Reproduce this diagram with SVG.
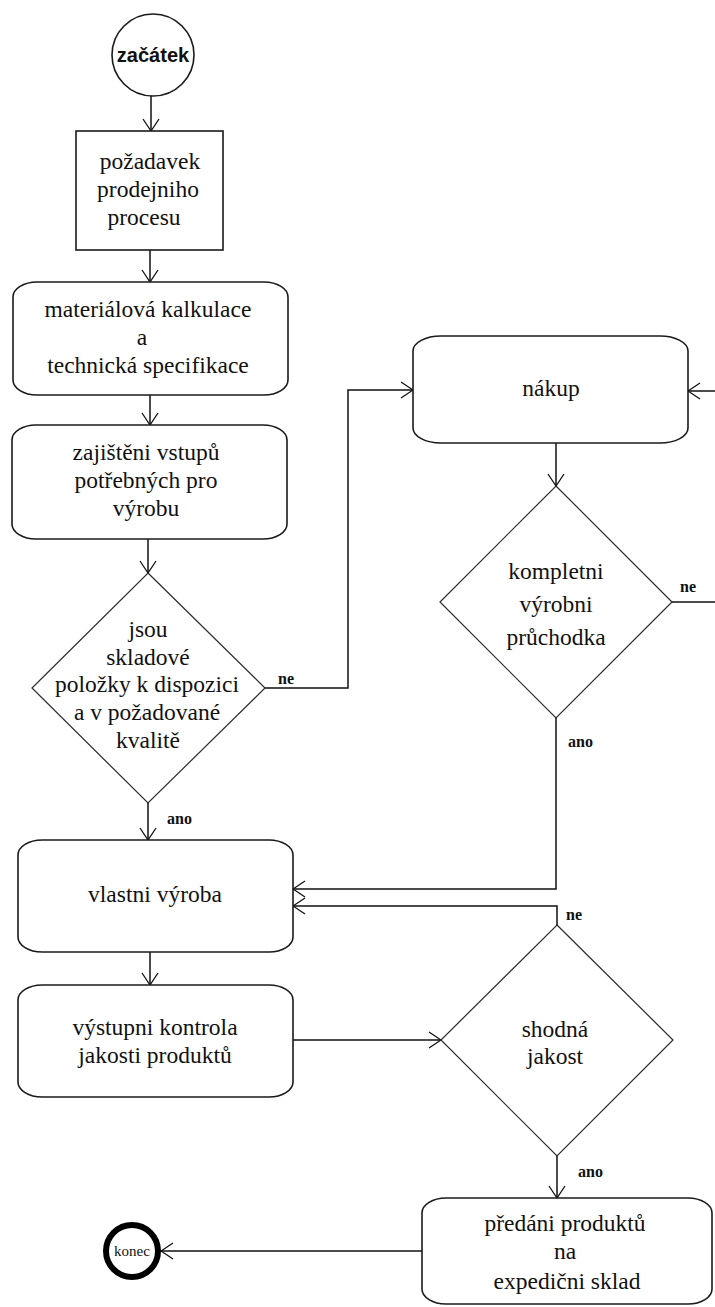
<svg xmlns="http://www.w3.org/2000/svg" width="715" height="1307" viewBox="0 0 715 1307">
  <style>
    .box { fill: #fff; stroke: #1a1a1a; stroke-width: 1.6; }
    .dia { fill: #fff; stroke: #2a2a2a; stroke-width: 1.2; }
    .t { font-family: "Liberation Serif", "Times New Roman", serif; font-size: 23.5px; fill: #111; text-anchor: middle; }
    .lbl { font-family: "Liberation Serif", "Times New Roman", serif; font-size: 16px; font-weight: bold; fill: #111; }
    .conn path { fill: none; stroke: #111; stroke-width: 1.5; marker-end: url(#open); }
    .conn path.plain { marker-end: none; }
  </style>
  <defs>
    <marker id="open" markerUnits="userSpaceOnUse" markerWidth="14" markerHeight="18" viewBox="0 0 14 18" refX="13" refY="9" orient="auto">
      <path d="M1,1 L13,9 L1,17" fill="none" stroke="#111" stroke-width="1.3"/>
    </marker>
  </defs>
  <rect width="715" height="1307" fill="#fff"/>

  <!-- connectors -->
  <g id="connectors" class="conn">
    <path d="M151,96 V131"/>
    <path d="M150,250 V282"/>
    <path d="M150,395 V425"/>
    <path d="M148,539 V573"/>
    <path d="M148,803 V840"/>
    <path d="M265,688 H348 V390 H413"/>
    <path d="M556,443 V486"/>
    <path class="plain" d="M672,602 H715"/>
    <path d="M715,391 H688"/>
    <path d="M556,718 V889 H293"/>
    <path d="M557,925 V906 H293"/>
    <path d="M150,952 V985"/>
    <path d="M293,1040 H441"/>
    <path d="M557,1156 V1198"/>
    <path d="M422,1251 H161"/>
  </g>

  <!-- connector labels -->
  <g id="labels">
    <text class="lbl" x="278" y="684">ne</text>
    <text class="lbl" x="167" y="824">ano</text>
    <text class="lbl" x="680" y="592">ne</text>
    <text class="lbl" x="568" y="747">ano</text>
    <text class="lbl" x="566" y="920">ne</text>
    <text class="lbl" x="578" y="1177">ano</text>
  </g>

  <g id="start">
    <circle cx="153" cy="55" r="41" fill="#fff" stroke="#1a1a1a" stroke-width="1.6"/>
    <text x="153" y="62" font-family="'Liberation Sans', Arial, sans-serif" font-size="20" font-weight="bold" fill="#111" text-anchor="middle">začátek</text>
  </g>

  <g id="pozadavek">
    <rect class="box" x="76" y="131" width="147" height="119"/>
    <text class="t" x="150" y="169">požadavek</text>
    <text class="t" x="148" y="197">prodejniho</text>
    <text class="t" x="144" y="225">procesu</text>
  </g>

  <g id="kalkulace">
    <rect class="box" x="13" y="282" width="275" height="113" rx="24" ry="15"/>
    <text class="t" x="148" y="317">materiálová kalkulace</text>
    <text class="t" x="142" y="345">a</text>
    <text class="t" x="148" y="373">technická specifikace</text>
  </g>

  <g id="vstupy">
    <rect class="box" x="12" y="425" width="275" height="114" rx="24" ry="15"/>
    <text class="t" x="146" y="460">zajištěni vstupů</text>
    <text class="t" x="146" y="488">potřebných pro</text>
    <text class="t" x="146" y="516">výrobu</text>
  </g>

  <g id="sklad-dotaz">
    <polygon class="dia" points="148,573 265,688 148,803 32,688"/>
    <text class="t" x="148" y="637">jsou</text>
    <text class="t" x="148" y="665">skladové</text>
    <text class="t" x="147" y="692">položky k dispozici</text>
    <text class="t" x="147" y="720">a v požadované</text>
    <text class="t" x="148" y="748">kvalitě</text>
  </g>

  <g id="nakup">
    <rect class="box" x="413" y="336" width="275" height="107" rx="28" ry="15"/>
    <text class="t" x="551" y="396">nákup</text>
  </g>

  <g id="pruchodka">
    <polygon class="dia" points="556,486 672,602 556,718 440,602"/>
    <text class="t" x="556" y="579">kompletni</text>
    <text class="t" x="556" y="612">výrobni</text>
    <text class="t" x="556" y="645">průchodka</text>
  </g>

  <g id="vyroba">
    <rect class="box" x="18" y="840" width="275" height="112" rx="24" ry="15"/>
    <text class="t" x="155" y="902">vlastni výroba</text>
  </g>

  <g id="kontrola">
    <rect class="box" x="18" y="985" width="275" height="112" rx="24" ry="15"/>
    <text class="t" x="155" y="1035">výstupni kontrola</text>
    <text class="t" x="155" y="1063">jakosti produktů</text>
  </g>

  <g id="shoda">
    <polygon class="dia" points="557,925 673,1040 557,1156 441,1040"/>
    <text class="t" x="555" y="1037">shodná</text>
    <text class="t" x="555" y="1064">jakost</text>
  </g>

  <g id="predani">
    <rect class="box" x="422" y="1198" width="290" height="106" rx="24" ry="15"/>
    <text class="t" x="565" y="1231">předáni produktů</text>
    <text class="t" x="565" y="1259">na</text>
    <text class="t" x="567" y="1289">expedični sklad</text>
  </g>

  <g id="konec">
    <circle cx="132" cy="1251" r="26" fill="#fff" stroke="#000" stroke-width="6"/>
    <text x="132" y="1256" font-family="'Liberation Serif', 'Times New Roman', serif" font-size="15" fill="#111" text-anchor="middle">konec</text>
  </g>
</svg>
